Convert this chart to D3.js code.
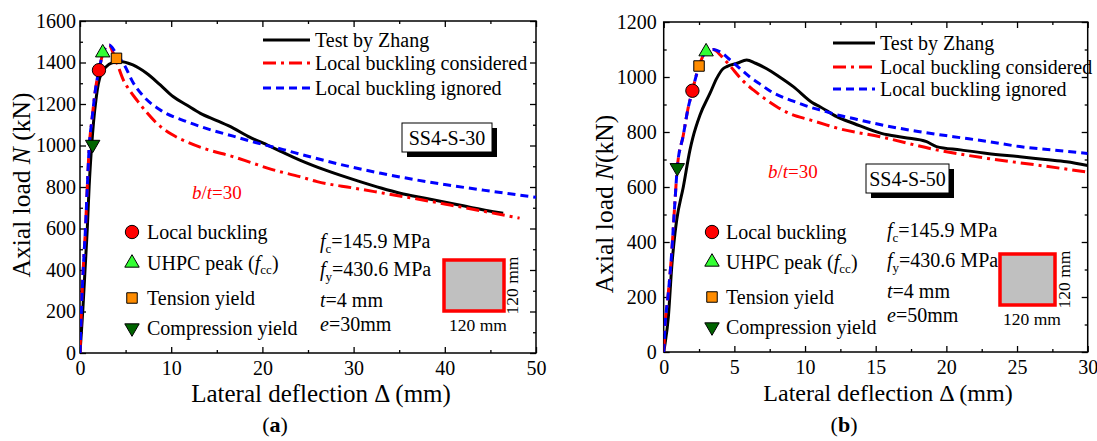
<!DOCTYPE html>
<html>
<head>
<meta charset="utf-8">
<script src="https://cdn.jsdelivr.net/npm/d3@7"></script>
<style>
  html, body { margin: 0; padding: 0; background: #fff; }
  svg { display: block; font-family: "Liberation Serif", "Times New Roman", serif; }
</style>
</head>
<body>
<svg id="chart" width="1097" height="441"></svg>
<script>
// ---------- Panel (a): SS4-S-30 ----------
const aTestX = [0,0.3,0.55,0.8,1.0,1.28,1.5,1.75,2.0,2.3,2.9,3.5,4.4,5.8,7.3,8.8,10.2,11.7,13.2,15.0,16.8,18.6,20.1,22.0,24.1,27.0,30.7,33.0,35.1,38.0,40.6,43.0,46.4];
const aTestN = [0,200,400,600,800,1000,1120,1220,1295,1345,1381,1398,1405,1388,1348,1292,1236,1195,1155,1120,1084,1040,1011,972,930,880,826,795,770,745,722,700,673];
const aConsX = [0,0.15,0.35,0.6,0.8,1.02,1.3,1.55,1.8,2.08,2.49,2.85,3.2,3.6,4.1,4.75,5.5,6.3,7.3,8.4,10.0,11.7,14.0,16.8,18.6,21.0,24.1,26.0,30.0,33.3,37.0,40.6,44.0,48.2];
const aConsN = [0,200,400,600,800,1000,1120,1220,1300,1363,1440,1475,1484,1450,1392,1316,1262,1215,1160,1108,1055,1018,980,946,920,885,850,826,795,770,742,713,685,650];
const aIgnX = [0,0.15,0.35,0.6,0.8,1.02,1.3,1.55,1.8,2.08,2.49,2.85,3.2,4.0,4.9,5.8,6.9,8.8,11.7,14.0,16.8,18.6,22.3,25.0,29.6,33.0,36.9,40.0,44.2,50.0];
const aIgnN = [0,200,400,600,800,1000,1120,1220,1300,1363,1440,1475,1484,1440,1385,1305,1240,1171,1115,1080,1045,1022,980,948,898,866,834,812,785,750];
// state points: local buckling, UHPC peak, tension yield, compression yield
const aPointX = [2.08, 2.49, 4.0, 1.39];
const aPointN = [1363, 1447, 1420, 1005];
const aXTicks = [0,10,20,30,40,50];
const aXMinor = [5,15,25,35,45];
const aYTicks = [0,200,400,600,800,1000,1200,1400,1600];
const aYMinor = [100,300,500,700,900,1100,1300,1500];

// ---------- Panel (b): SS4-S-50 ----------
const bTestX = [0,0.1,0.33,0.57,0.8,0.92,1.39,1.86,2.05,2.57,3.28,3.75,4.2,4.46,5.2,5.87,6.5,7.29,8.2,9.17,10.6,11.06,12.24,13.5,15.4,17.0,18.6,19.3,21.0,22.9,25.2,27.0,28.5,30.0];
const bTestN = [0,32,128,310,432,480,601,735,777,862,941,995,1030,1038,1050,1062,1050,1030,1000,965,904,892,856,830,795,780,765,747,735,722,710,700,692,678];
const bConsX = [0,0.1,0.3,0.55,0.8,0.96,1.39,1.7,2.03,2.5,3.0,3.5,4.1,4.7,5.63,6.34,7.05,8.0,9.0,10.35,11.5,12.36,15.3,19.3,22.9,26.4,30.0];
const bConsN = [0,100,200,350,550,670,789,880,950,1040,1092,1100,1075,1040,985,953,925,892,865,844,826,813,783,735,704,680,654];
const bIgnX = [0,0.1,0.3,0.55,0.8,0.96,1.39,1.7,2.03,2.5,3.0,3.5,4.1,4.7,5.3,6.1,6.8,7.5,8.5,9.17,10.5,11.5,12.0,13.5,15.8,18.0,20.5,23.0,25.2,27.5,30.0];
const bIgnN = [0,100,200,350,550,670,789,880,950,1040,1092,1100,1088,1062,1035,1000,975,950,925,912,888,874,866,848,822,802,783,765,747,735,722];
const bPointX = [2.03, 3.0, 2.5, 0.96];
const bPointN = [950, 1092, 1040, 670];
const bXTicks = [0,5,10,15,20,25,30];
const bXMinor = [2.5,7.5,12.5,17.5,22.5,27.5];
const bYTicks = [0,200,400,600,800,1000,1200];
const bYMinor = [100,300,500,700,900,1100];

const seriesNames = ["Test by Zhang", "Local buckling considered", "Local buckling ignored"];
const pointNames = ["Local buckling", "UHPC peak", "Tension yield", "Compression yield"];

const zip = (xs, ys) => xs.map((x, i) => [x, ys[i]]);

const panels = [
  {
    tag: "a", spec: "SS4-S-30", ecc: "e=30mm",
    box: {l: 80, r: 536, t: 21, b: 353},
    xMax: 50, yMax: 1600,
    xTicks: aXTicks, xMinor: aXMinor, yTicks: aYTicks, yMinor: aYMinor,
    lines: [zip(aTestX, aTestN), zip(aConsX, aConsN), zip(aIgnX, aIgnN)],
    points: zip(aPointX, aPointN),
    legend: {x0: 263, x1: 310, tx: 315, ys: [40, 63, 88]},
    specBox: {x: 402, y: 123, w: 90, h: 29},
    ratio: {x: 192, y: 199},
    keyPts: {x: 132, tx: 147, ys: [232, 263, 298, 328]},
    params: {x: 320, ys: [248, 276, 307, 331]},
    section: {x: 444, y: 260, w: 60, h: 51, bx: 478, by: 331, vx: 518},
    yTitle: {x: 30, y: 185, text: ["Axial load ", "N", " (kN)"], size: 25.5},
    xTitle: {x: 321, y: 402, size: 25},
    caption: {x: 275, y: 432}
  },
  {
    tag: "b", spec: "SS4-S-50", ecc: "e=50mm",
    box: {l: 663.7, r: 1087.7, t: 22, b: 352},
    xMax: 30, yMax: 1200,
    xTicks: bXTicks, xMinor: bXMinor, yTicks: bYTicks, yMinor: bYMinor,
    lines: [zip(bTestX, bTestN), zip(bConsX, bConsN), zip(bIgnX, bIgnN)],
    points: zip(bPointX, bPointN),
    legend: {x0: 833, x1: 875, tx: 880, ys: [43, 67, 89]},
    specBox: {x: 866, y: 164, w: 83, h: 29},
    ratio: {x: 768, y: 178},
    keyPts: {x: 712, tx: 726, ys: [232, 262, 297, 327]},
    params: {x: 887, ys: [237, 267, 298, 322]},
    section: {x: 1000, y: 254, w: 55, h: 51, bx: 1032, by: 325, vx: 1070},
    yTitle: {x: 613, y: 204, text: ["Axial load ", "N", "(kN)"], size: 25.5},
    xTitle: {x: 888, y: 401, size: 24},
    caption: {x: 844, y: 432}
  }
];

const lineStyles = [
  {color: "#000000", dash: null},
  {color: "#ff0000", dash: "13,5,3,5"},
  {color: "#0000ff", dash: "8,5"}
];
const pointStyles = [
  {shape: d3.symbolCircle, size: 140, fill: "#ff0000", rot: 0},
  {shape: d3.symbolTriangle, size: 90, fill: "#33ff33", rot: 0},
  {shape: d3.symbolSquare, size: 110, fill: "#ff8c00", rot: 0},
  {shape: d3.symbolTriangle, size: 90, fill: "#006400", rot: 180}
];

const svg = d3.select("#chart");

panels.forEach(p => {
  const g = svg.append("g");
  const x = d3.scaleLinear().domain([0, p.xMax]).range([p.box.l, p.box.r]);
  const y = d3.scaleLinear().domain([0, p.yMax]).range([p.box.b, p.box.t]);

  // inward ticks on all four sides
  const axisStyle = sel => {
    sel.attr("font-family", null).attr("font-size", null);
    sel.select(".domain").remove();
    sel.selectAll(".tick line").attr("stroke", "#000").attr("stroke-width", 1.3);
    sel.selectAll(".tick text").attr("font-size", 20).attr("fill", "#000");
  };
  g.append("g").attr("transform", `translate(0,${p.box.b})`)
    .call(d3.axisBottom(x).tickValues(p.xTicks).tickSize(-6).tickPadding(8).tickFormat(d3.format("d")))
    .call(axisStyle);
  g.append("g").attr("transform", `translate(0,${p.box.b})`)
    .call(d3.axisBottom(x).tickValues(p.xMinor).tickSize(-3).tickFormat(""))
    .call(axisStyle);
  g.append("g").attr("transform", `translate(0,${p.box.t})`)
    .call(d3.axisTop(x).tickValues(p.xTicks).tickSize(-6).tickFormat(""))
    .call(axisStyle);
  g.append("g").attr("transform", `translate(0,${p.box.t})`)
    .call(d3.axisTop(x).tickValues(p.xMinor).tickSize(-3).tickFormat(""))
    .call(axisStyle);
  g.append("g").attr("transform", `translate(${p.box.l},0)`)
    .call(d3.axisLeft(y).tickValues(p.yTicks).tickSize(-6).tickPadding(p.tag === "a" ? 4 : 7).tickFormat(d3.format("d")))
    .call(axisStyle);
  g.append("g").attr("transform", `translate(${p.box.l},0)`)
    .call(d3.axisLeft(y).tickValues(p.yMinor).tickSize(-3).tickFormat(""))
    .call(axisStyle);
  g.append("g").attr("transform", `translate(${p.box.r},0)`)
    .call(d3.axisRight(y).tickValues(p.yTicks).tickSize(-6).tickFormat(""))
    .call(axisStyle);
  g.append("g").attr("transform", `translate(${p.box.r},0)`)
    .call(d3.axisRight(y).tickValues(p.yMinor).tickSize(-3).tickFormat(""))
    .call(axisStyle);

  // frame
  g.append("rect")
    .attr("x", p.box.l).attr("y", p.box.t)
    .attr("width", p.box.r - p.box.l).attr("height", p.box.b - p.box.t)
    .attr("fill", "none").attr("stroke", "#000").attr("stroke-width", 1.5);

  // curves
  const clipId = "clip-" + p.tag;
  g.append("clipPath").attr("id", clipId).append("rect")
    .attr("x", p.box.l).attr("y", p.box.t - 2)
    .attr("width", p.box.r - p.box.l).attr("height", p.box.b - p.box.t + 2);
  const line = d3.line().x(d => x(d[0])).y(d => y(d[1])).curve(d3.curveMonotoneX);
  [0, 1, 2].forEach(i => {
    g.append("path").datum(p.lines[i])
      .attr("clip-path", `url(#${clipId})`)
      .attr("d", line)
      .attr("fill", "none")
      .attr("stroke", lineStyles[i].color)
      .attr("stroke-width", 3)
      .attr("stroke-linejoin", "round")
      .attr("stroke-dasharray", lineStyles[i].dash);
  });

  // state points on the curves
  p.points.forEach((pt, i) => {
    const s = pointStyles[i];
    g.append("path")
      .attr("d", d3.symbol().type(s.shape).size(s.size)())
      .attr("transform", `translate(${x(pt[0])},${y(pt[1])}) rotate(${s.rot})`)
      .attr("fill", s.fill).attr("stroke", "#000").attr("stroke-width", 1);
  });

  // series legend
  [0, 1, 2].forEach(i => {
    const ly = p.legend.ys[i];
    g.append("line")
      .attr("x1", p.legend.x0).attr("x2", p.legend.x1)
      .attr("y1", ly).attr("y2", ly)
      .attr("stroke", lineStyles[i].color).attr("stroke-width", 3)
      .attr("stroke-dasharray", lineStyles[i].dash);
    g.append("text").attr("x", p.legend.tx).attr("y", ly + 7)
      .attr("font-size", 20).text(seriesNames[i]);
  });

  // specimen label with drop shadow
  const sb = p.specBox;
  g.append("rect").attr("x", sb.x + 5).attr("y", sb.y + 5).attr("width", sb.w).attr("height", sb.h).attr("fill", "#000");
  g.append("rect").attr("x", sb.x).attr("y", sb.y).attr("width", sb.w).attr("height", sb.h)
    .attr("fill", "#fff").attr("stroke", "#000").attr("stroke-width", 1);
  g.append("text").attr("x", sb.x + sb.w / 2).attr("y", sb.y + sb.h / 2 + 7)
    .attr("text-anchor", "middle").attr("font-size", 20).text(p.spec);

  // width-to-thickness ratio
  const rt = g.append("text").attr("x", p.ratio.x).attr("y", p.ratio.y)
    .attr("font-size", 19).attr("fill", "#ff0000");
  rt.append("tspan").attr("font-style", "italic").text("b");
  rt.append("tspan").text("/");
  rt.append("tspan").attr("font-style", "italic").text("t");
  rt.append("tspan").text("=30");

  // key for the state points
  p.keyPts.ys.forEach((ky, i) => {
    const s = pointStyles[i];
    g.append("path")
      .attr("d", d3.symbol().type(s.shape).size(s.size)())
      .attr("transform", `translate(${p.keyPts.x},${ky}) rotate(${s.rot})`)
      .attr("fill", s.fill).attr("stroke", "#000").attr("stroke-width", 1);
    const t = g.append("text").attr("x", p.keyPts.tx).attr("y", ky + 7).attr("font-size", 20);
    if (i === 1) {
      t.append("tspan").text("UHPC peak (");
      t.append("tspan").attr("font-style", "italic").text("f");
      t.append("tspan").attr("font-size", 13).attr("dy", 4).text("cc");
      t.append("tspan").attr("dy", -4).text(")");
    } else {
      t.text(pointNames[i]);
    }
  });

  // material and geometry parameters
  const px = p.params.x, pys = p.params.ys;
  const t1 = g.append("text").attr("x", px).attr("y", pys[0]).attr("font-size", 20);
  t1.append("tspan").attr("font-style", "italic").text("f");
  t1.append("tspan").attr("font-size", 13).attr("dy", 5).text("c");
  t1.append("tspan").attr("dy", -5).text("=145.9 MPa");
  const t2 = g.append("text").attr("x", px).attr("y", pys[1]).attr("font-size", 20);
  t2.append("tspan").attr("font-style", "italic").text("f");
  t2.append("tspan").attr("font-size", 13).attr("dy", 5).text("y");
  t2.append("tspan").attr("dy", -5).text("=430.6 MPa");
  const t3 = g.append("text").attr("x", px).attr("y", pys[2]).attr("font-size", 20);
  t3.append("tspan").attr("font-style", "italic").text("t");
  t3.append("tspan").text("=4 mm");
  const t4 = g.append("text").attr("x", px).attr("y", pys[3]).attr("font-size", 20);
  t4.append("tspan").attr("font-style", "italic").text("e");
  t4.append("tspan").text(p.ecc.slice(1));

  // square cross-section
  const sc = p.section;
  g.append("rect").attr("x", sc.x).attr("y", sc.y).attr("width", sc.w).attr("height", sc.h)
    .attr("fill", "#c0c0c0").attr("stroke", "#ff0000").attr("stroke-width", 3.5);
  g.append("text").attr("x", sc.bx).attr("y", sc.by).attr("text-anchor", "middle")
    .attr("font-size", 17.5).text("120 mm");
  g.append("text").attr("transform", `translate(${sc.vx},${sc.y + sc.h / 2}) rotate(-90)`)
    .attr("text-anchor", "middle").attr("font-size", 17.5).text("120 mm");

  // axis titles
  const yt = g.append("text")
    .attr("transform", `translate(${p.yTitle.x},${p.yTitle.y}) rotate(-90)`)
    .attr("text-anchor", "middle").attr("font-size", p.yTitle.size);
  yt.append("tspan").text(p.yTitle.text[0]);
  yt.append("tspan").attr("font-style", "italic").text(p.yTitle.text[1]);
  yt.append("tspan").text(p.yTitle.text[2]);
  g.append("text").attr("x", p.xTitle.x).attr("y", p.xTitle.y)
    .attr("text-anchor", "middle").attr("font-size", p.xTitle.size)
    .text("Lateral deflection \u0394 (mm)");

  // panel caption
  const cap = g.append("text").attr("x", p.caption.x).attr("y", p.caption.y)
    .attr("text-anchor", "middle").attr("font-size", 22);
  cap.append("tspan").text("(");
  cap.append("tspan").attr("font-weight", "bold").text(p.tag);
  cap.append("tspan").text(")");
});
</script>
</body>
</html>
